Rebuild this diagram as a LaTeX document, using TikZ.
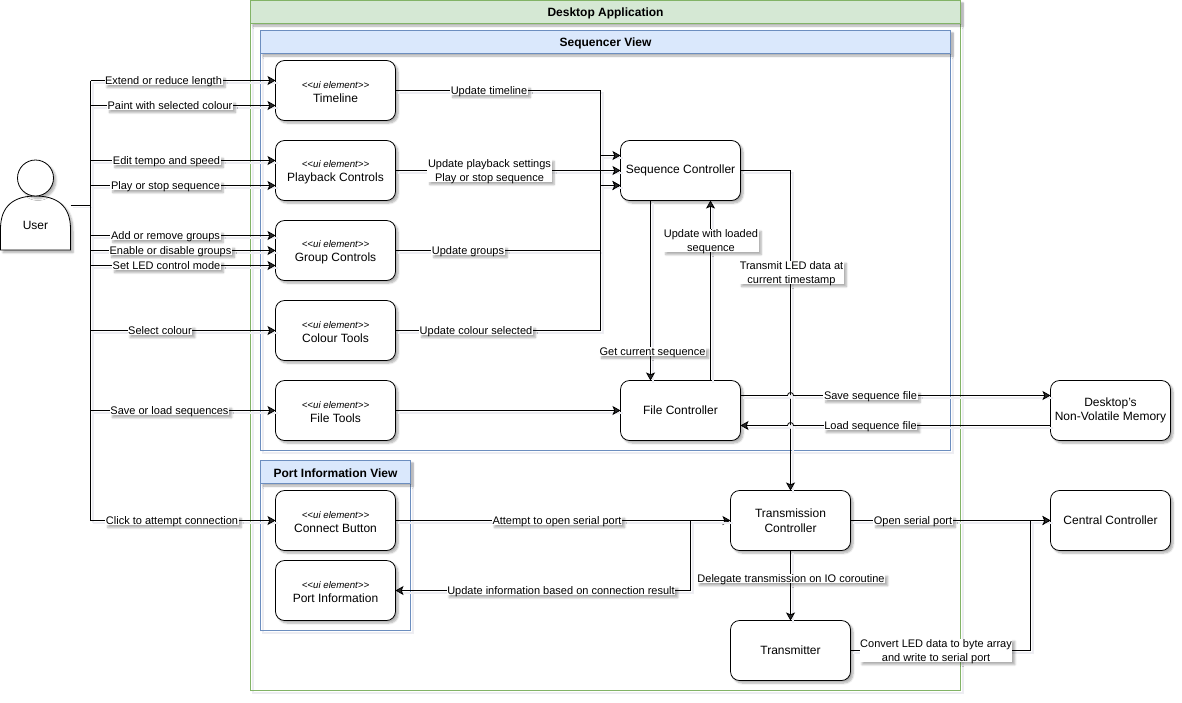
\documentclass[tikz,border=0pt]{standalone}
\usepackage{fontspec}
\setmainfont{Liberation Sans}
\usetikzlibrary{arrows.meta,shadows.blur}
\definecolor{appfill}{HTML}{D5E8D4}
\definecolor{appline}{HTML}{82B366}
\definecolor{viewfill}{HTML}{DAE8FC}
\definecolor{viewline}{HTML}{6C8EBF}
\definecolor{shadowtint}{HTML}{8A8AA8}
\tikzset{
    softshadow/.style={blur shadow={shadow xshift=2.5pt,shadow yshift=-2.5pt,shadow blur radius=2pt,shadow blur steps=6,shadow opacity=32}},
    lineshadow/.style={preaction={draw=shadowtint!15,line width=1.6pt,-,transform canvas={shift={(2.5pt,-2.5pt)}}}},
    box/.style={draw,fill=white,line width=0.8pt,rounded corners=9pt,minimum width=120pt,minimum height=60pt,
        inner sep=0pt,outer sep=0pt,align=center,font=\fontsize{12}{14.5}\selectfont,softshadow},
    lanebody/.style={draw=#1,line width=0.9pt,minimum height=0pt,anchor=north west,inner sep=0pt,outer sep=0pt,lineshadow},
    lanehead/.style={draw=#1,line width=0.9pt,minimum height=23pt,anchor=north west,inner sep=0pt,outer sep=0pt,
        font=\fontsize{12}{14}\selectfont\bfseries,softshadow},
    wire/.style={line width=0.8pt,lineshadow},
    flow/.style={wire,-{Stealth[length=8pt,width=9pt,inset=1.8pt]}},
    tag/.style={fill=white,inner sep=0.6pt,outer sep=0pt,align=center,text depth=0pt,
        font=\fontsize{11}{14}\selectfont,softshadow},
}
\newcommand{\drawlane}[8]{
    \node[lanebody=#7,minimum width=#4pt,minimum height=#5pt] (#1) at (#2,#3) {};
    \node[lanehead=#7,fill=#6,minimum width=#4pt] (#1head) at (#2,#3) {\rule{0pt}{12pt}#8};
}
\newcommand{\uielement}[4]{
    \node[box] (#1) at (#2,#3) {{\rule{0pt}{10pt}\fontsize{9.7}{12}\selectfont\itshape <{}<ui element>{}>}\\#4};
}
\newcommand{\conlabel}[4]{
    \node[tag] (#1) at (#2,#3) {#4};
}
\begin{document}
\begin{tikzpicture}[x=1pt,y=-1pt]
    \useasboundingbox (0,0) rectangle (1182,702);

    \drawlane{desktop}{250.5}{0.5}{710}{690}{appfill}{appline}{Desktop Application}
    \drawlane{sequencer}{260.5}{30.5}{690}{420}{viewfill}{viewline}{Sequencer View}
    \drawlane{portview}{260.5}{460.5}{150}{170}{viewfill}{viewline}{Port Information View}

    \uielement{timeline}{335.5}{90.5}{Timeline}
    \uielement{playback}{335.5}{170.5}{Playback Controls}
    \uielement{groups}{335.5}{250.5}{Group Controls}
    \uielement{colour}{335.5}{330.5}{Colour Tools}
    \uielement{filetools}{335.5}{410.5}{File Tools}
    \uielement{connect}{335.5}{520.5}{Connect Button}
    \uielement{portinfo}{335.5}{590.5}{Port Information}

    \node[box] (seqctrl) at (680.5,170.5) {Sequence Controller};
    \node[box] (filectrl) at (680.5,410.5) {File Controller};
    \node[box] (transctrl) at (790.5,520.5) {Transmission\\Controller};
    \node[box] (transmitter) at (790.5,650.5) {Transmitter};
    \node[box] (memory) at (1110.5,410.5) {Desktop's\\Non-Volatile Memory};
    \node[box] (central) at (1110.5,520.5) {Central Controller};

    \node[minimum width=70pt,minimum height=90pt,inner sep=0pt,outer sep=0pt] (user) at (35.5,205) {};
    \path[draw,fill=white,line width=0.8pt,softshadow] (0.5,250) -- (0.5,229)
        .. controls (0.5,205) and (15,196) .. (35.5,196)
        .. controls (56,196) and (70.5,205) .. (70.5,229) -- (70.5,250) -- cycle;
    \path[draw,fill=white,line width=0.8pt,softshadow] (35.5,178) circle (18pt);
    \node[font=\fontsize{12}{14}\selectfont] (usertext) at (35.5,225) {User};

    \coordinate (trunk) at (90.5,205);
    \coordinate (trunktop) at (90.5,80.5);
    \coordinate (trunkend) at (90.5,520.5);
    \draw[wire] (user.east) -- (trunk);
    \draw[wire] (trunktop) -- (trunkend);
    \foreach \off/\target in {10/timeline,-15/timeline,10/playback,-15/playback,15/groups,0/groups,-15/groups,0/colour,0/filetools,0/connect}{
        \coordinate (tip) at ([yshift=\off pt]\target.west);
        \draw[flow] (trunk |- tip) -- (tip);
    }

    \coordinate (merge) at (600.5,170.5);
    \draw[flow] (timeline.east) -| (merge) |- ([yshift=15pt]seqctrl.west);
    \draw[flow] (playback.east) -- (seqctrl.west);
    \draw[flow] (groups.east) -| (merge) |- ([yshift=-15pt]seqctrl.west);
    \draw[flow] (colour.east) -| (merge) |- ([yshift=-15pt]seqctrl.west);
    \draw[flow] (filetools.east) -- (filectrl.west);
    \draw[flow] ([xshift=-30pt]seqctrl.south) -- ([xshift=-30pt]filectrl.north);
    \draw[flow] ([xshift=30pt]filectrl.north) -- ([xshift=30pt]seqctrl.south);
    \draw[flow] (seqctrl.east) -| (transctrl.north);

    \coordinate (jumpsave) at (787.5,395.5);
    \coordinate (jumpload) at (793.5,425.5);
    \draw[flow] ([yshift=15pt]filectrl.east) -- (jumpsave) arc[start angle=180,end angle=0,radius=3pt] -- ([yshift=15pt]memory.west);
    \draw[flow] ([yshift=-15pt]memory.west) -- (jumpload) arc[start angle=0,end angle=180,radius=3pt] -- ([yshift=-15pt]filectrl.east);

    \coordinate (split) at (690.5,520.5);
    \coordinate (bus) at (1030.5,520.5);
    \draw[flow] (connect.east) -- (transctrl.west);
    \draw[flow] (transctrl.west) -- (split) |- (portinfo.east);
    \draw[flow] (transctrl.east) -- (central.west);
    \draw[flow] (transctrl.south) -- (transmitter.north);
    \draw[flow] (transmitter.east) -| (bus) -- (central.west);

    \conlabel{extendtag}{163.5}{80.5}{Extend or reduce length}
    \conlabel{painttag}{170}{105.5}{Paint with selected colour}
    \conlabel{tempotag}{166.5}{160.5}{Edit tempo and speed}
    \conlabel{playtag}{165.5}{185.5}{Play or stop sequence}
    \conlabel{addtag}{165.5}{235.5}{Add or remove groups}
    \conlabel{enabletag}{170.5}{250.5}{Enable or disable groups}
    \conlabel{modetag}{166.5}{265.5}{Set LED control mode}
    \conlabel{selecttag}{160}{330.5}{Select colour}
    \conlabel{savetag}{169.5}{410.5}{Save or load sequences}
    \conlabel{clicktag}{172}{520.5}{Click to attempt connection}

    \conlabel{timelinetag}{489}{90.5}{Update timeline}
    \conlabel{playbacktag}{489.5}{170.5}{Update playback settings\\Play or stop sequence}
    \conlabel{groupstag}{468}{250.5}{Update groups}
    \conlabel{colourtag}{476}{330.5}{Update colour selected}
    \conlabel{currenttag}{652.5}{351.5}{Get current sequence}
    \conlabel{loadedtag}{711}{240.5}{Update with loaded\\sequence}
    \conlabel{transmittag}{791.5}{272.5}{Transmit LED data at\\current timestamp}
    \conlabel{savefiletag}{870.5}{395.5}{Save sequence file}
    \conlabel{loadfiletag}{870.5}{425.5}{Load sequence file}
    \conlabel{attempttag}{557}{520.5}{Attempt to open serial port}
    \conlabel{resulttag}{561}{590.5}{Update information based on connection result}
    \conlabel{opentag}{913}{520.5}{Open serial port}
    \conlabel{delegatetag}{791}{578.5}{Delegate transmission on IO coroutine}
    \conlabel{converttag}{936}{650.5}{Convert LED data to byte array\\and write to serial port}
\end{tikzpicture}
\end{document}
